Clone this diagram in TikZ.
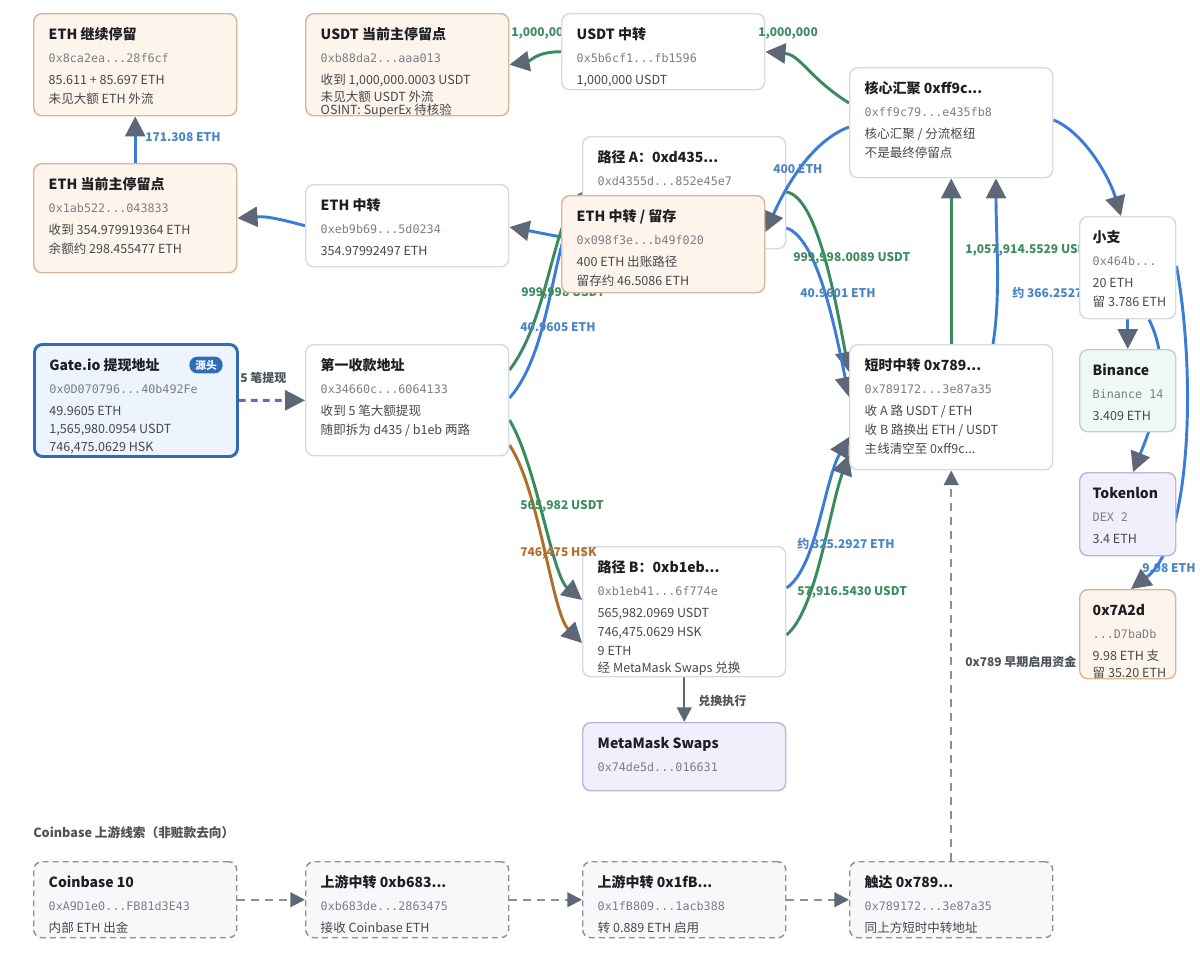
\documentclass[tikz,border=0pt]{standalone}
\usepackage{fontspec}
\setmainfont{Noto Sans CJK SC}
\setmonofont{DejaVu Sans Mono}
\usetikzlibrary{arrows.meta, calc, backgrounds}

\definecolor{inkTitle}{HTML}{1E1F22}
\definecolor{inkBody}{HTML}{45484D}
\definecolor{inkAddr}{HTML}{7B7F86}
\definecolor{cardLine}{HTML}{D7DBE0}
\definecolor{warmFill}{HTML}{FDF4EC}
\definecolor{warmLine}{HTML}{D9B899}
\definecolor{srcFill}{HTML}{EDF4FD}
\definecolor{srcLine}{HTML}{2F6CB8}
\definecolor{cexFill}{HTML}{EFF8F2}
\definecolor{cexLine}{HTML}{B8D7C2}
\definecolor{dexFill}{HTML}{F1EFFB}
\definecolor{dexLine}{HTML}{BCB6DF}
\definecolor{hintFill}{HTML}{F7F8FA}
\definecolor{hintLine}{HTML}{8C9198}
\definecolor{ethBlue}{HTML}{3B7DD6}
\definecolor{usdtGreen}{HTML}{3A8B5C}
\definecolor{hskBrown}{HTML}{B06E2B}
\definecolor{wdPurple}{HTML}{7C5CC9}
\definecolor{tipGray}{HTML}{5E6777}
\definecolor{lblBlue}{HTML}{4A86C6}
\definecolor{lblGreen}{HTML}{3F8C60}
\definecolor{lblBrown}{HTML}{B0712F}
\definecolor{noteGray}{HTML}{4E535A}

% card text: title, address, body lines
\newcommand{\ttl}[1]{\rule{0pt}{19.5pt}{\fontsize{10.5}{12}\selectfont\bfseries\color{inkTitle}#1}}
\newcommand{\adr}[1]{{\fontsize{8.8}{12}\selectfont\ttfamily\color{inkAddr}#1}}
\newcommand{\card}[3]{\parbox[t][#2][t]{#1}{\fontsize{9.4}{14}\selectfont\color{inkBody}%
  \begin{tabular}[t]{@{}l@{}}#3\end{tabular}}}

\tikzset{
  card/.style={draw=cardLine, fill=white, line width=1.1pt, rounded corners=6pt,
    inner xsep=11.25pt, inner ysep=0pt, anchor=north west},
  narrow/.style={inner xsep=9.75pt},
  warm/.style={card, draw=warmLine, fill=warmFill},
  src/.style={card, draw=srcLine, fill=srcFill, line width=2.2pt},
  cex/.style={card, draw=cexLine, fill=cexFill},
  dex/.style={card, draw=dexLine, fill=dexFill},
  hint/.style={card, draw=hintLine, fill=hintFill, dash pattern=on 4.5pt off 3pt},
  badge/.style={fill=srcLine, text=white, rounded corners=6pt, inner sep=0pt,
    minimum width=25pt, minimum height=12.5pt, font=\fontsize{8}{9}\selectfont\bfseries},
  lbl/.style={inner sep=0pt, anchor=west, font=\fontsize{9}{11}\selectfont\bfseries},
  flowTip/.tip={Triangle[length=15pt,width=15pt,color=tipGray]},
  hintTip/.tip={Triangle[length=11pt,width=11pt,color=tipGray]},
  eth/.style={draw=ethBlue, line width=2.2pt, -flowTip},
  usdt/.style={draw=usdtGreen, line width=2.2pt, -flowTip},
  hsk/.style={draw=hskBrown, line width=2.2pt, -flowTip},
  withdraw/.style={draw=wdPurple, line width=2.2pt, dash pattern=on 5pt off 4pt, -flowTip},
  swap/.style={draw=tipGray, line width=1.6pt, -hintTip},
  trace/.style={draw=hintLine, line width=1.6pt, dash pattern=on 6pt off 4.5pt, -hintTip},
}

\begin{document}
\begin{tikzpicture}[x=0.75pt, y=-0.75pt]
    \useasboundingbox (0,0) rectangle (1200,953);

    % Top row
    \node[warm] (ethStay) at (33,13) {\card{129.75pt}{76.5pt}{\ttl{ETH 继续停留}\\[3.25pt]
        \adr{0x8ca2ea...28f6cf}\\[2.5pt] 85.611 + 85.697 ETH\\ 未见大额 ETH 外流}};
    \node[warm] (usdtMain) at (305,13) {\card{129.75pt}{76.5pt}{\ttl{USDT 当前主停留点}\\[3.25pt]
        \adr{0xb88da2...aaa013}\\[2.5pt] 收到 1,000,000.0003 USDT\\[-1.5pt] 未见大额 USDT 外流\\[-4pt] OSINT: SuperEx 待核验}};
    \node[card] (usdtRelay) at (561,13) {\card{129.75pt}{57pt}{\ttl{USDT 中转}\\[3.25pt]
        \adr{0x5b6cf1...fb1596}\\[2.5pt] 1,000,000 USDT}};
    \node[card] (hub) at (849,67) {\card{129.75pt}{82.5pt}{\ttl{核心汇聚 0xff9c...}\\[3.25pt]
        \adr{0xff9c79...e435fb8}\\[2.5pt] 核心汇聚 / 分流枢纽\\ 不是最终停留点}};

    % Second row
    \node[warm] (ethMain) at (33,163) {\card{129.75pt}{81.75pt}{\ttl{ETH 当前主停留点}\\[3.25pt]
        \adr{0x1ab522...043833}\\[2.5pt] 收到 354.979919364 ETH\\ 余额约 298.455477 ETH}};
    \node[card] (ethRelay) at (305,184) {\card{129.75pt}{61.5pt}{\ttl{ETH 中转}\\[3.25pt]
        \adr{0xeb9b69...5d0234}\\[2.5pt] 354.97992497 ETH}};
    \node[warm] (ethKeep) at (561,195) {\card{129.75pt}{72.75pt}{\ttl{ETH 中转 / 留存}\\[3.25pt]
        \adr{0x098f3e...b49f020}\\[2.5pt] 400 ETH 出账路径\\ 留存约 46.5086 ETH}};
    \node[card, narrow] (small) at (1079,216) {\card{52.5pt}{76.5pt}{\ttl{小支}\\[3.25pt]
        \adr{0x464b...}\\[2.5pt] 20 ETH\\ 留 3.786 ETH}};

    % Source and first hop
    \node[src] (gate) at (33,343) {\card{129.75pt}{84pt}{\ttl{Gate.io 提现地址}\\[3.25pt]
        \adr{0x0D070796...40b492Fe}\\[2.5pt] 49.9605 ETH\\[-0.6pt] 1,565,980.0954 USDT\\[-0.6pt] 746,475.0629 HSK}};
    \node[badge] (srcTag) at (206,365) {源头};
    \node[card] (first) at (305,344) {\card{129.75pt}{83.25pt}{\ttl{第一收款地址}\\[3.25pt]
        \adr{0x34660c...6064133}\\[2.5pt] 收到 5 笔大额提现\\ 随即拆为 d435 / b1eb 两路}};
    \node[card] (short) at (849,344) {\card{129.75pt}{93.75pt}{\ttl{短时中转 0x789...}\\[3.25pt]
        \adr{0x789172...3e87a35}\\[2.5pt] 收 A 路 USDT / ETH\\ 收 B 路换出 ETH / USDT\\ 主线清空至 0xff9c...}};

    % Right column
    \node[cex, narrow] (binance) at (1079,349) {\card{52.5pt}{61.5pt}{\ttl{Binance}\\[3.25pt]
        \adr{Binance 14}\\[2.5pt] 3.409 ETH}};
    \node[dex, narrow] (tokenlon) at (1079,472) {\card{52.5pt}{62.25pt}{\ttl{Tokenlon}\\[3.25pt]
        \adr{DEX 2}\\[2.5pt] 3.4 ETH}};
    \node[warm, narrow] (x7a2d) at (1079,589) {\card{52.5pt}{66.75pt}{\ttl{0x7A2d}\\[3.25pt]
        \adr{...D7baDb}\\[2.5pt] 9.98 ETH 支\\[-1.5pt] 留 35.20 ETH}};

    % Path B and swap
    \node[card] (pathB) at (582,546) {\card{129.75pt}{97.5pt}{\ttl{路径 B：0xb1eb...}\\[3.25pt]
        \adr{0xb1eb41...6f774e}\\[2.5pt] 565,982.0969 USDT\\ 746,475.0629 HSK\\ 9 ETH\\[-0.8pt] 经 MetaMask Swaps 兑换}};
    \node[dex] (metamask) at (582,722) {\card{129.75pt}{51pt}{\ttl{MetaMask Swaps}\\[3.25pt]
        \adr{0x74de5d...016631}}};

    % Coinbase upstream
    \node[inner sep=0pt, anchor=west, text=noteGray, font=\fontsize{9.5}{11}\selectfont\bfseries]
        (cbHead) at (33,833) {Coinbase 上游线索（非赃款去向）};
    \node[hint] (cb10) at (33,861) {\card{129.75pt}{57pt}{\ttl{Coinbase 10}\\[3.25pt]
        \adr{0xA9D1e0...FB81d3E43}\\[2.5pt] 内部 ETH 出金}};
    \node[hint] (up1) at (305,861) {\card{129.75pt}{57pt}{\ttl{上游中转 0xb683...}\\[3.25pt]
        \adr{0xb683de...2863475}\\[2.5pt] 接收 Coinbase ETH}};
    \node[hint] (up2) at (582,861) {\card{129.75pt}{57pt}{\ttl{上游中转 0x1fB...}\\[3.25pt]
        \adr{0x1fB809...1acb388}\\[2.5pt] 转 0.889 ETH 启用}};
    \node[hint] (touch) at (849,861) {\card{129.75pt}{57pt}{\ttl{触达 0x789...}\\[3.25pt]
        \adr{0x789172...3e87a35}\\[2.5pt] 同上方短时中转地址}};

    % labels that sit over a card
    \node[lbl, text=lblGreen] (l1mb) at (758,33) {1,000,000};
    \node[lbl, text=lblBrown] (lB2) at (520,553) {746,475 HSK};

    % Flows (behind the cards, path A card under them)
    \begin{scope}[on background layer]
    \fill[white] (0,0) rectangle (1200,953);
    \node[card] (pathA) at (582,136) {\card{129.75pt}{84pt}{\ttl{路径 A：0xd435...}\\[3.25pt]
        \adr{0xd4355d...852e45e7}}};

    % ETH exits on the left
    \draw[eth] (ethMain) -- (ethStay);
    \node[lbl, text=lblBlue] (l171) at (145,137) {171.308 ETH};
    \draw[eth] (ethRelay.west) .. controls +(-30,-8) and +(28,-2) .. (ethMain.east);
    \draw[eth] ($(ethKeep.north west)+(0,42)$) -- ($(ethRelay.north east)+(0,43)$);

    % USDT exits on top
    \draw[usdt] (usdtRelay.west) .. controls +(-25,0) and +(22,-4) .. (usdtMain.east);
    \node[lbl, text=lblGreen] (l1m) at (511,33) {1,000,000.0003 USDT};
    \draw[usdt] ($(hub.north west)+(0,36)$) .. controls +(-40,-25) and +(35,3) .. (usdtRelay.east);
    \draw[eth] ($(hub.north west)+(0,60)$) .. controls +(-40,15) and +(18,-40) .. ($(ethKeep.north east)+(0,37)$);
    \node[lbl, text=lblBlue] (l400) at (773,169) {400 ETH};

    % Withdrawal
    \draw[withdraw] (gate) -- (first);
    \node[lbl, text=noteGray] (l5) at (240,378) {5 笔提现};

    % Path A
    \draw[usdt] ($(first.north east)+(0,26)$) .. controls +(35,-45) and +(-30,45) .. ($(pathA.north west)+(0,56)$);
    \draw[eth] ($(first.north east)+(0,54)$) .. controls +(40,-45) and +(-30,55) .. ($(pathA.north west)+(0,62)$);
    \node[lbl, text=lblGreen] (lA1) at (521,293) {999,998 USDT};
    \node[lbl, text=lblBlue] (lA2) at (520,327) {40.9605 ETH};
    \draw[usdt] ($(pathA.north east)+(0,56)$) .. controls +(30,5) and +(-15,-80) .. ($(short.north west)+(0,28)$);
    \draw[eth] ($(pathA.north east)+(0,92)$) .. controls +(30,10) and +(-15,-75) .. ($(short.north west)+(0,53)$);
    \node[lbl, text=lblGreen] (lA3) at (793,258) {999,998.0089 USDT};
    \node[lbl, text=lblBlue] (lA4) at (800,293) {40.9601 ETH};

    % Path B
    \draw[usdt] ($(first.north east)+(0,76)$) .. controls +(27,45) and +(-30,-25) .. ($(pathB.north west)+(0,54)$);
    \draw[hsk] ($(first.north east)+(0,101)$) .. controls +(30,45) and +(-30,-30) .. ($(pathB.north west)+(0,97)$);
    \node[lbl, text=lblGreen] (lB1) at (520,506) {565,982 USDT};
    \draw[eth] ($(pathB.north east)+(0,42)$) .. controls +(30,-20) and +(-25,45) .. ($(short.north west)+(0,93)$);
    \draw[usdt] ($(pathB.north east)+(0,89)$) .. controls +(30,-25) and +(-20,55) .. ($(short.north west)+(0,111)$);
    \node[lbl, text=lblBlue] (lB3) at (797,544) {约 325.2927 ETH};
    \node[lbl, text=lblGreen] (lB4) at (797,592) {57,916.5430 USDT};
    \draw[swap] (pathB) -- (metamask);
    \node[lbl, text=noteGray] (lswap) at (698,701) {兑换执行};

    % Into the hub
    \draw[usdt] (short) -- (hub);
    \draw[eth] ($(short.north west)+(144,0)$) .. controls +(8,-50) and +(0,60) .. ($(hub.south west)+(147,0)$);
    \node[lbl, text=lblGreen] (lH1) at (965,250) {1,057,914.5529 USDT};
    \node[lbl, text=lblBlue] (lH2) at (1012,293) {约 366.2527 ETH};

    % Small branch
    \draw[eth] ($(hub.north east)+(0,53)$) .. controls +(30,12) and +(-12,-40) .. ($(small.north west)+(42,0)$);
    \draw[eth] (small) -- (binance);
    \draw[eth] ($(small.south west)+(70,0)$) .. controls +(25,50) and +(20,-50) .. ($(tokenlon.north west)+(54,0)$);
    \node[lbl, text=lblBlue] (lS1) at (1142,568) {9.98 ETH};
    \draw[eth] ($(small.north east)+(0,50)$) .. controls +(20,110) and +(60,-45) .. ($(x7a2d.north west)+(52,0)$);

    % Coinbase trace
    \draw[trace] (cb10) -- (up1);
    \draw[trace] (up1) -- (up2);
    \draw[trace] (up2) -- (touch);
    \draw[trace] (touch) -- (short);
    \node[lbl, text=noteGray] (learly) at (965,662) {0x789 早期启用资金};
    \end{scope}
\end{tikzpicture}
\end{document}
